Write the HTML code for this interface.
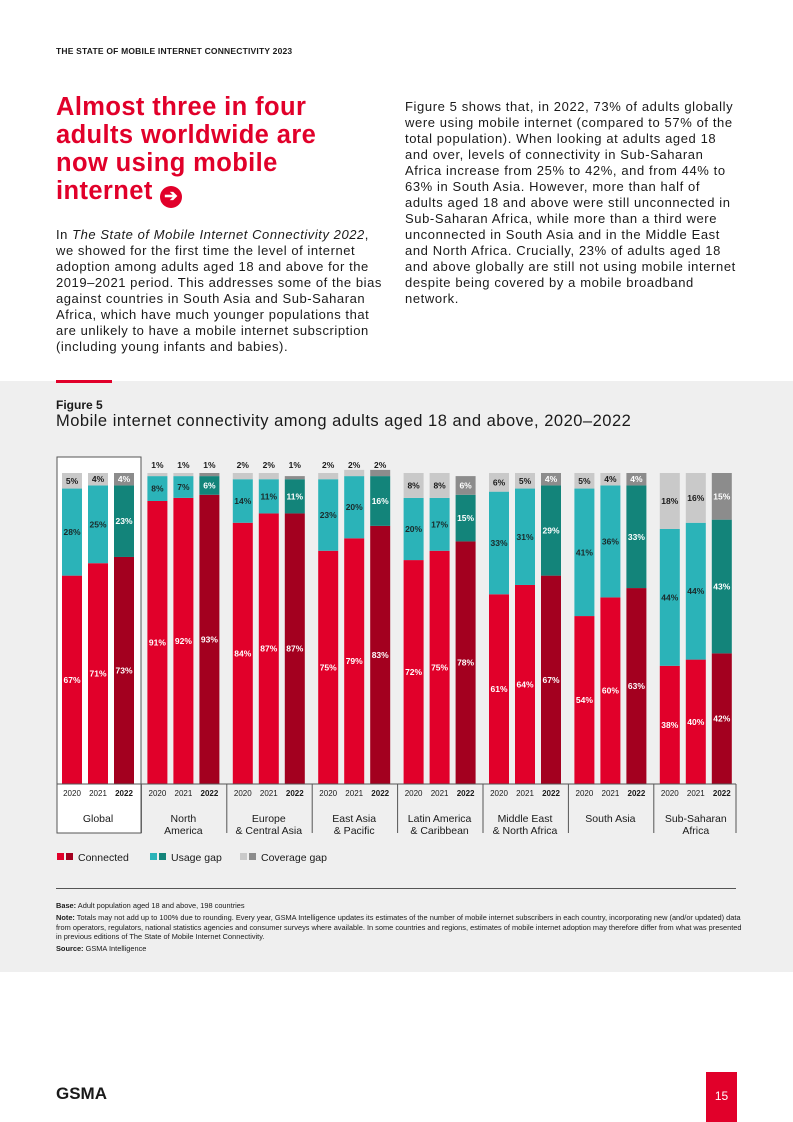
<!DOCTYPE html>
<html><head><meta charset="utf-8">
<style>
body{margin:0;width:793px;height:1122px;position:relative;background:#fff;font-family:"Liberation Sans",sans-serif;color:#1a1a1a;overflow:hidden}
.abs{position:absolute}
#hdr{left:56px;top:46px;font-size:8.5px;font-weight:bold;letter-spacing:0.2px}
#title{left:56px;top:93px;width:300px;font-size:25.5px;line-height:28px;font-weight:bold;color:#e1002a;letter-spacing:0.4px}
#lp{left:56px;top:227px;width:334px;font-size:13px;line-height:16px;letter-spacing:0.55px}
#rp{left:405px;top:99px;width:334px;font-size:13px;line-height:16px;letter-spacing:0.6px}
#panel{left:0;top:381px;width:793px;height:591px;background:#efefef}
#redline{left:56px;top:380px;width:56px;height:3px;background:#e1002a}
#figl{left:56px;top:398px;font-size:12px;font-weight:bold}
#figt{left:56px;top:412px;font-size:16.5px;letter-spacing:0.5px}
.foot{left:56px;font-size:7.4px;line-height:9.5px;width:690px}
#pg{left:706px;top:1072px;width:31px;height:50px;background:#e1002a;color:#fff;font-size:12px;text-align:center;line-height:48px}
#logo{left:56px;top:1084px;font-size:17px;font-weight:bold;letter-spacing:0px}
</style></head><body>
<div class="abs" id="hdr">THE STATE OF MOBILE INTERNET CONNECTIVITY 2023</div>
<div class="abs" id="title">Almost three in four adults worldwide are now using mobile internet <span style="display:inline-block;width:22px;height:22px;border-radius:50%;background:#e1002a;color:#fff;font-size:16px;line-height:22px;text-align:center;vertical-align:-2px">➔</span></div>
<div class="abs" id="lp">In <i>The State of Mobile Internet Connectivity 2022</i>, we showed for the first time the level of internet adoption among adults aged 18 and above for the 2019–2021 period. This addresses some of the bias against countries in South Asia and Sub-Saharan Africa, which have much younger populations that are unlikely to have a mobile internet subscription (including young infants and babies).</div>
<div class="abs" id="rp">Figure 5 shows that, in 2022, 73% of adults globally were using mobile internet (compared to 57% of the total population). When looking at adults aged 18 and over, levels of connectivity in Sub-Saharan Africa increase from 25% to 42%, and from 44% to 63% in South Asia. However, more than half of adults aged 18 and above were still unconnected in Sub-Saharan Africa, while more than a third were unconnected in South Asia and in the Middle East and North Africa. Crucially, 23% of adults aged 18 and above globally are still not using mobile internet despite being covered by a mobile broadband network.</div>
<div class="abs" id="panel"></div>
<div class="abs" id="redline"></div>
<div class="abs" id="figl">Figure 5</div>
<div class="abs" id="figt">Mobile internet connectivity among adults aged 18 and above, 2020–2022</div>
<svg class="abs" style="left:0;top:440px" width="793" height="440" id="chart"></svg>
<div class="abs" style="left:56px;top:888px;width:680px;height:1px;background:#555"></div>
<div class="abs foot" style="top:901px"><b>Base:</b> Adult population aged 18 and above, 198 countries</div>
<div class="abs foot" style="top:913px"><b>Note:</b> Totals may not add up to 100% due to rounding. Every year, GSMA Intelligence updates its estimates of the number of mobile internet subscribers in each country, incorporating new (and/or updated) data from operators, regulators, national statistics agencies and consumer surveys where available. In some countries and regions, estimates of mobile internet adoption may therefore differ from what was presented in previous editions of The State of Mobile Internet Connectivity.</div>
<div class="abs foot" style="top:944px"><b>Source:</b> GSMA Intelligence</div>
<div class="abs" id="logo">GSMA</div>
<div class="abs" id="pg">15</div>
<script>
const regions=["Global","North|America","Europe|& Central Asia","East Asia|& Pacific","Latin America|& Caribbean","Middle East|& North Africa","South Asia","Sub-Saharan|Africa"];
const years=["2020","2021","2022"];
const connected=[[67,71,73],[91,92,93],[84,87,87],[75,79,83],[72,75,78],[61,64,67],[54,60,63],[38,40,42]];
const usage=[[28,25,23],[8,7,6],[14,11,11],[23,20,16],[20,17,15],[33,31,29],[41,36,33],[44,44,43]];
const coverage=[[5,4,4],[1,1,1],[2,2,1],[2,2,2],[8,8,6],[6,5,4],[5,4,4],[18,16,15]];
const svg=document.getElementById('chart');const NS="http://www.w3.org/2000/svg";
const base=344,H=311,g0=62,gp=85.4,bp=26,bw=20;
const y=v=>v/100*H;
function mk(t,a,txt){const e=document.createElementNS(NS,t);for(const k in a)e.setAttribute(k,a[k]);if(txt!=null)e.textContent=txt;svg.appendChild(e);return e;}
const cols=[["#e1002a","#e1002a","#a3001f"],["#2bb3b8","#2bb3b8","#13847a"],["#c9c9c9","#c9c9c9","#8c8c8c"]];
const tcol=[["#fff","#fff","#fff"],["#1a2a2a","#1a2a2a","#fff"],["#1a1a1a","#1a1a1a","#fff"]];
let box=mk('rect',{x:57,y:17,width:84,height:376,fill:"#fff",stroke:"#555","stroke-width":1});


regions.forEach((r,gi)=>{
  const gx=g0+gi*gp;
  years.forEach((yr,yi)=>{
    const x=gx+yi*bp;let acc=0;
    [connected,usage,coverage].forEach((s,si)=>{
      const v=s[gi][yi];const h=y(v);const top=base-y(acc)-h;
      const rc=mk('rect',{x:x,y:top,width:bw,height:h,fill:cols[si][yi]});
      
      
      let ty,tc=tcol[si][yi];
      if(v<=2){ty=base-y(100)-5;tc="#1a1a1a";}else ty=top+h/2+3;
      const t=mk('text',{x:x+bw/2,y:ty,'text-anchor':'middle','font-size':8.5,'font-weight':'bold',fill:tc},v+'%');
      
      
      acc+=v;
    });
    const yl=mk('text',{x:x+bw/2,y:base+12,'text-anchor':'middle','font-size':8,'font-weight':yi==2?'bold':'normal',fill:'#1a1a1a'},yr);
    
    
  });
  const parts=r.split('|');
  parts.forEach((p,pi)=>{
    const t=mk('text',{x:gx+bp+bw/2,y:base+38+pi*12,'text-anchor':'middle','font-size':10.5,fill:'#1a1a1a'},p);
    
    
  });
  if(gi>0){const l=mk('line',{x1:gx-6,x2:gx-6,y1:base,y2:base+49,stroke:'#555','stroke-width':1});
  }
});
const l2=mk('line',{x1:736,x2:736,y1:base,y2:base+49,stroke:'#555'});

mk('line',{x1:57,x2:736,y1:base,y2:base,stroke:'#555'});
const leg=[["Connected",57],["Usage gap",150],["Coverage gap",240]];
leg.forEach((L,i)=>{
  mk('rect',{x:L[1],y:413,width:7,height:7,fill:cols[i][0]});
  mk('rect',{x:L[1]+9,y:413,width:7,height:7,fill:cols[i][2]});
  const t=mk('text',{x:L[1]+21,y:421,'font-size':10.5,fill:'#1a1a1a'},L[0]);
  
  
});
</script>
</body></html>
